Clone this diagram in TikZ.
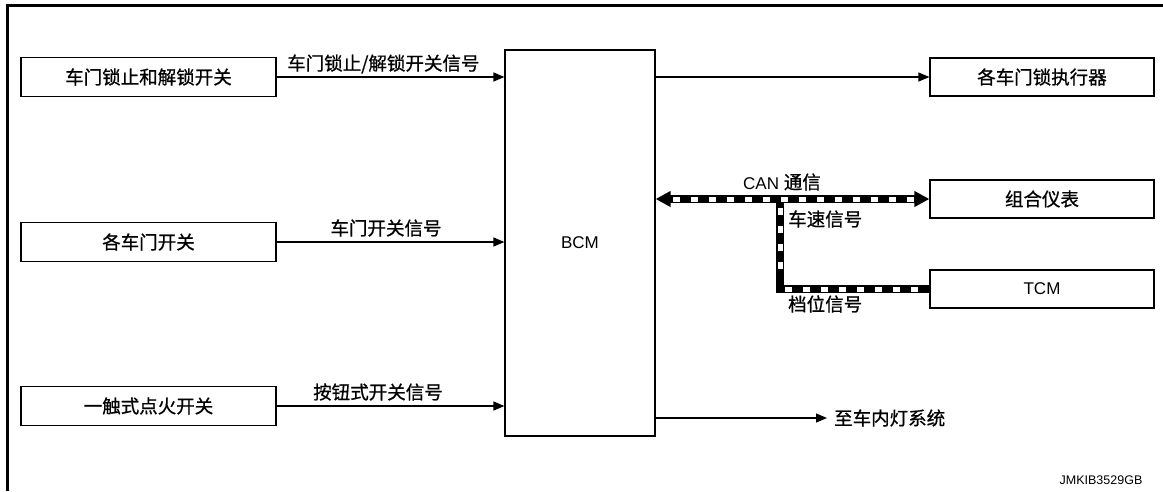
\documentclass[tikz,border=0pt]{standalone}
\usepackage{fontspec}
\setmainfont{Liberation Sans}
\newfontfamily\cjk[FakeBold=0.8]{Noto Sans CJK SC}
\usetikzlibrary{arrows.meta,calc}
\tikzset{
  box/.style={draw, line width=1.2pt, minimum width=255pt, minimum height=39pt, inner sep=0pt, font=\cjk\fontsize{18.5}{20}\selectfont},
  rbox/.style={draw, line width=1.2pt, minimum width=224pt, minimum height=38pt, inner sep=0pt, font=\cjk\fontsize{18.5}{20}\selectfont},
  lbl/.style={inner sep=0pt, font=\cjk\fontsize{18.5}{20}\selectfont},
  conn/.style={line width=1.2pt, -{Triangle[length=11pt,width=9pt]}},
  busblack/.style={line width=8pt, black},
  buswhite/.style={fill=white, draw=none},
}
\begin{document}
\begin{tikzpicture}[x=1pt,y=-1pt]
\useasboundingbox (0,0) rectangle (1163,491);
% frame
\draw[line width=3pt] (7.5,491) -- (7.5,5.5) -- (1163,5.5);
% left boxes
\node[box] (b1) at (148.5,77) {车门锁止和解锁开关};
\node[box] (b2) at (148.5,242) {各车门开关};
\node[box] (b3) at (148.5,406) {一触式点火开关};
% BCM
\node[draw, line width=1.2pt, minimum width=150pt, minimum height=386pt, inner sep=0pt, font=\fontsize{17}{20}\selectfont] (bcm) at (580,243) {BCM};
% right boxes
\node[rbox] (r1) at (1042,77) {各车门锁执行器};
\node[rbox] (r2) at (1042,199) {组合仪表};
\node[rbox, font=\fontsize{17}{20}\selectfont] (r3) at (1042,289) {TCM};
% connectors
\draw[conn] (b1.east) -- (bcm.west |- b1.east);
\draw[conn] (b2.east) -- (bcm.west |- b2.east);
\draw[conn] (b3.east) -- (bcm.west |- b3.east);
\draw[conn] (bcm.east |- r1.west) -- (r1.west);
\node[lbl, anchor=west] (light) at (834,418) {至车内灯系统};
\coordinate (lt) at (827,418);
\draw[conn] (bcm.east |- lt) -- (lt);
% labels
\node[lbl, anchor=west] (l1) at (287,64) {车门锁止/解锁开关信号};
\node[lbl] (l2) at (386,228) {车门开关信号};
\node[lbl] (l3) at (378,392) {按钮式开关信号};
% CAN bus
\coordinate (j) at (780,199);
\draw[busblack, {Triangle[length=15pt,width=15pt]}-{Triangle[length=15pt,width=15pt]}] (bcm.east |- r2.west) -- (r2.west);
\draw[busblack, line cap=butt] (j) -- (j |- r3.west) -- (r3.west);
\foreach \k in {0,...,13} { \fill[buswhite] (673+18*\k,196.5) rectangle ++(6.5,5); }
\foreach \k in {0,...,3} { \fill[buswhite] (777.5,208+18*\k) rectangle ++(5,6.5); }
\foreach \k in {0,...,7} { \fill[buswhite] (785+18*\k,286.5) rectangle ++(6.5,5); }
\node[lbl, font=\fontsize{17}{20}\selectfont] (can) at (782,182) {CAN {\cjk\fontsize{18.5}{20}\selectfont 通信}};
\node[lbl, anchor=west] (l4) at (788,219) {车速信号};
\node[lbl, anchor=west] (l5) at (788,304) {档位信号};
% code
\node[inner sep=0pt, font=\fontsize{12.5}{14}\selectfont] (code) at (1101,480) {JMKIB3529GB};
\end{tikzpicture}
\end{document}
